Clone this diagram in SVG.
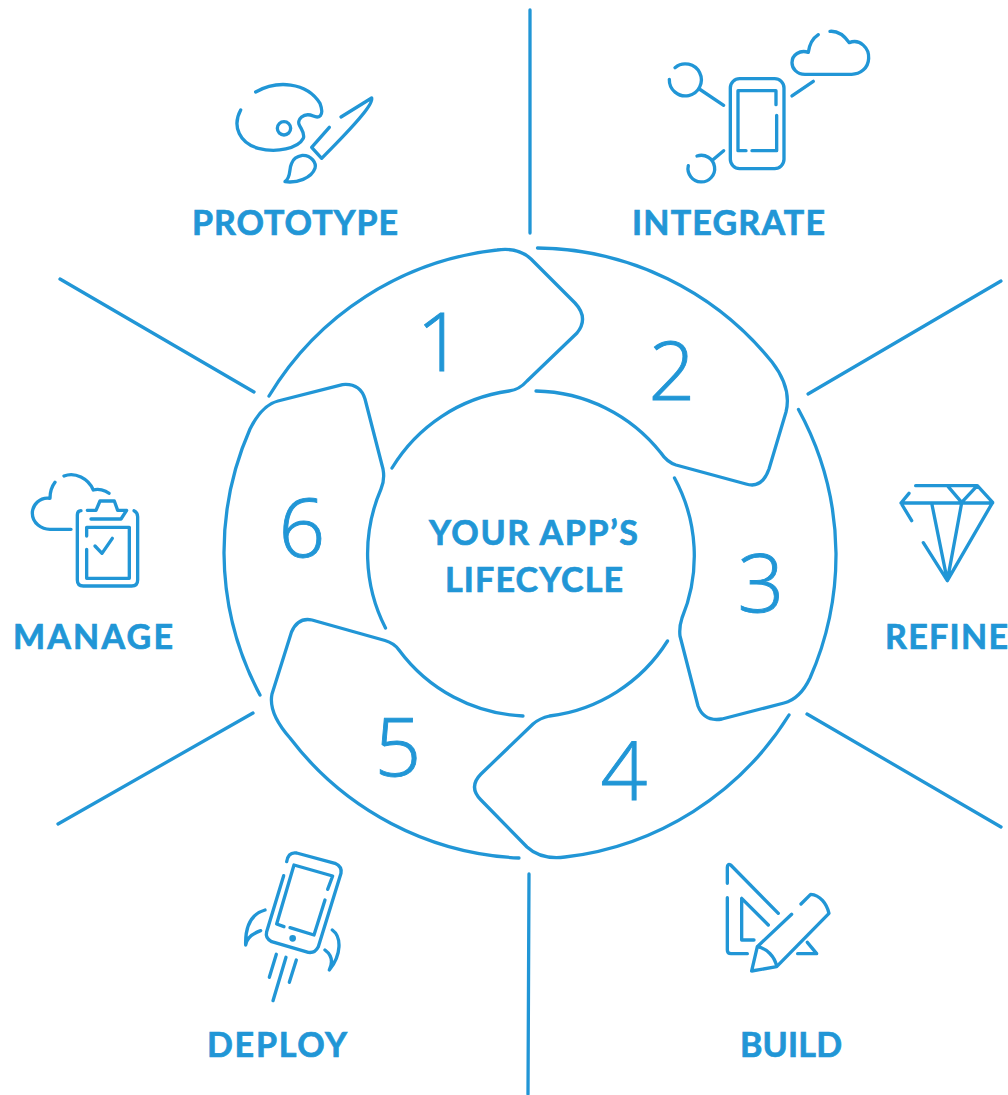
<svg xmlns="http://www.w3.org/2000/svg" width="1008" height="1095" viewBox="0 0 1008 1095">
<style>
.l{fill:none;stroke:#2196d6;stroke-width:3.3;stroke-linecap:round;stroke-linejoin:round}
.i{fill:none;stroke:#2196d6;stroke-width:10;stroke-linecap:round;stroke-linejoin:round}
.n{font-family:"Open Sans",sans-serif;font-weight:300;font-size:82px;fill:#2196d6;stroke:#2196d6;stroke-width:.9;text-anchor:middle}
.t{font-family:"Lato",sans-serif;font-weight:700;font-size:34px;fill:#2196d6;stroke:#2196d6;stroke-width:.7}
</style>
<rect width="1008" height="1095" fill="#fff"/>
<g id="connectors" class="l">
<path d="M530 10V233"/><path d="M1001 281L808 394"/><path d="M807 714L1001 827"/><path d="M529 874L528 1094"/><path d="M253 713L58 824"/><path d="M60 279L254 392"/>
</g>
<g id="step-1"><path class="l" d="M269 396A305 305 0 0 1 497 250Q518 247 531 259L575 303Q589 318 577 333L527 381Q519 390 509 391A163 163 0 0 0 392 468"/><text class="n" x="440" y="370.500">1</text></g>
<g id="step-2"><path class="l" d="M537.500 248A305 305 0 0 1 772 362Q792 388 786 412L769 469Q762 489 746 484L676 465Q667 462 661 453A163 163 0 0 0 536 391"/><text class="n" x="672" y="399.500">2</text></g>
<g id="step-3"><path class="l" d="M798.500 409.500A306 306 0 0 1 836 553A306 306 0 0 1 810 678Q800 699 784 703L722 719Q704 722 698 706L680 636Q679 627 682 618A163 163 0 0 0 674.500 478"/><text class="n" x="761" y="612">3</text></g>
<g id="step-4"><path class="l" d="M789 715A306 306 0 0 1 565 857Q541 860 527 847L481 800Q468 787 481 774L533 724Q540 718 549.500 716A163 163 0 0 0 667.500 641"/><text class="n" x="624" y="800">4</text></g>
<g id="step-5"><path class="l" d="M519 858A305 305 0 0 1 290 738Q268 713 272 694L291.500 632Q298 617 312 620L385 640.500Q394 643 399 650A163 163 0 0 0 523 716"/><text class="n" x="398" y="776">5</text></g>
<g id="step-6"><path class="l" d="M260 695A306 306 0 0 1 224 553A306 306 0 0 1 250 429Q262 405 278 401L342.500 384.600Q360 383 365 399L383 469Q385 480 381 489A163 163 0 0 0 385.500 628"/><text class="n" x="302" y="556.500">6</text></g>
<g id="center"><text class="t" x="429" y="544.500" textLength="209" lengthAdjust="spacing">YOUR APP’S</text><text class="t" x="445" y="592" textLength="178" lengthAdjust="spacing">LIFECYCLE</text></g>
<g id="prototype">
<g transform="translate(220 70) scale(.3333)" class="i">
<path d="M107 66C170 30 260 35 300 100C315 140 295 145 280 138C250 125 230 150 238 165C245 180 255 190 250 205C235 235 170 250 115 235C60 220 35 170 62 120"/>
<circle cx="192" cy="175" r="20"/>
<path d="M363 141L455 84C460 100 420 150 305 265L275 232L328 172"/>
<path d="M247 256C275 255 290 280 285 295C275 325 230 340 195 335C215 320 205 300 215 280C220 265 235 258 247 256Z"/>
</g>
<text class="t" x="192" y="235" textLength="206" lengthAdjust="spacing">PROTOTYPE</text>
</g>
<g id="integrate">
<g transform="translate(660 20) scale(.3333)" class="i">
<rect x="211" y="176" width="161" height="270" rx="28"/>
<path d="M348 254V212H234V392H258M276 392H350V286"/>
<path d="M45 143A48 48 0 1 1 28 178M118 207L191 256"/>
<path d="M111 408A40 40 0 1 1 85 437M158 420L191 392"/>
<path d="M510 34C535 32 555 50 568 68C600 55 628 85 626 115C625 145 600 163 575 163H435C410 163 396 145 396 128C396 105 420 88 445 97C448 75 458 55 475 44M396 228L460 184"/>
</g>
<text class="t" x="632" y="235" textLength="193" lengthAdjust="spacing">INTEGRATE</text>
</g>
<g id="refine">
<g transform="translate(890 475) scale(.3333)" class="i">
<path d="M77 32H262L308 82L172 317L100 203M57 55L33 84L65 137M33 84H308M172 32L215 82L262 32M125 84L172 317L215 84"/>
</g>
<text class="t" x="885" y="649" textLength="123" lengthAdjust="spacing">REFINE</text>
</g>
<g id="manage">
<g transform="translate(20 465) scale(.3333)" class="i">
<path d="M132 33C165 20 205 40 220 75C235 70 255 75 267 85M105 52C95 65 90 85 90 100C60 95 37 120 37 145C37 175 65 193 90 193H153"/>
<path d="M202 136H228L240 108H283L293 136H320L303 162H213"/>
<path d="M183 137Q172 137 172 150V345Q172 363 190 363H335Q353 363 353 345V155Q353 142 342 137"/>
<path d="M200 213V187H328V340H200V253M225 243L246 265L277 220"/>
</g>
<text class="t" x="13" y="649" textLength="160" lengthAdjust="spacing">MANAGE</text>
</g>
<g id="deploy">
<g transform="translate(235 845) scale(.3333)" class="i">
<path d="M146 92L95 260Q90 280 110 290L220 322Q240 325 250 305L318 85Q322 65 300 55L185 24Q160 20 155 50"/>
<path d="M147 245L125 237L177 60L293 93L278 133M270 165L237 270L165 248"/>
<circle cx="173" cy="280" r="5"/>
<path d="M90 195C55 205 30 235 32 300C35 280 55 265 77 257M292 255C320 275 320 330 283 375C295 350 290 330 270 315"/>
<path d="M124 328L103 397M153 337L114 467M184 345L163 412"/>
</g>
<text class="t" x="207" y="1057" textLength="140" lengthAdjust="spacing">DEPLOY</text>
</g>
<g id="build">
<g transform="translate(715 855) scale(.3333)" class="i">
<path d="M37 128V285Q37 296 48 296H97M248 296H305L277 262M190 175L47 30Q37 25 37 37V85"/>
<path d="M160 210L80 130V255H117"/>
<path d="M230 178L127 275L110 348L185 335L342 175C335 145 315 120 287 118L258 147M127 275C155 280 180 305 185 335"/>
</g>
<text class="t" x="740" y="1057" textLength="102" lengthAdjust="spacing">BUILD</text>
</g>
</svg>
